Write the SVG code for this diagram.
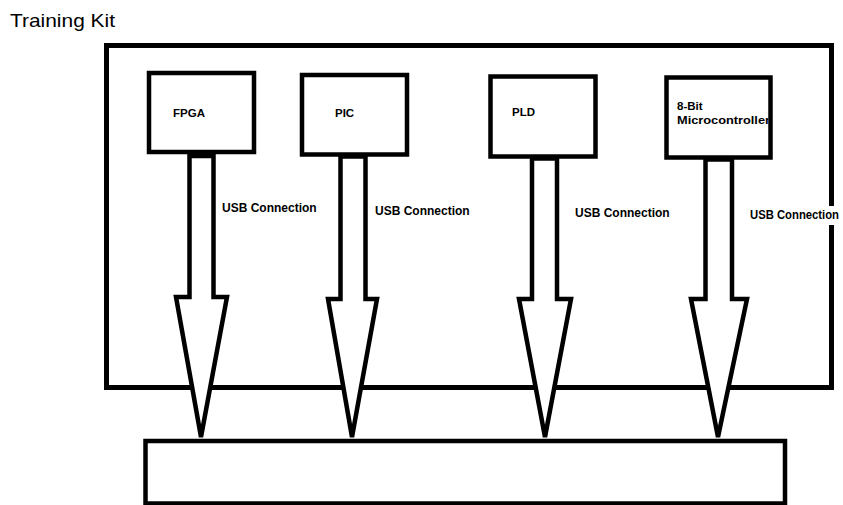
<svg xmlns="http://www.w3.org/2000/svg" width="843" height="505" viewBox="0 0 843 505">
  <style>
    .box { fill: #ffffff; stroke: #000000; stroke-width: 4.5; }
    .frame { fill: none; stroke: #000000; stroke-width: 5; }
    .arrow { fill: #ffffff; stroke: #000000; stroke-width: 4.5; stroke-linejoin: miter; }
    .lbl { font-family: "Liberation Sans", Arial, sans-serif; font-weight: bold; font-size: 11.5px; fill: #000000; }
    .usb { font-family: "Liberation Sans", Arial, sans-serif; font-weight: bold; font-size: 12px; fill: #000000; }
    .title { font-family: "Liberation Sans", Arial, sans-serif; font-size: 19px; fill: #000000; }
  </style>
  <defs>
    <clipPath id="clipMcu"><rect x="668.75" y="79.75" width="99.5" height="75.5"/></clipPath>
  </defs>
  <rect width="843" height="505" fill="#ffffff"/>

  <text class="title" x="10" y="27" textLength="105" lengthAdjust="spacingAndGlyphs">Training Kit</text>

  <g id="training-kit">
    <rect class="frame" x="106.5" y="45.5" width="725" height="342"/>
  </g>

  <g id="target-board">
    <rect class="box" x="145.5" y="441" width="639.5" height="62.5" stroke-width="4"/>
  </g>

  <g id="fpga">
    <rect class="box" x="149" y="73" width="105" height="79"/>
    <text class="lbl" x="173" y="117">FPGA</text>
  </g>
  <g id="pic">
    <rect class="box" x="302" y="75" width="105" height="79.5"/>
    <text class="lbl" x="335" y="117">PIC</text>
  </g>
  <g id="pld">
    <rect class="box" x="490.5" y="76.5" width="105" height="80"/>
    <text class="lbl" x="512" y="116">PLD</text>
  </g>
  <g id="mcu">
    <rect class="box" x="666.5" y="77.5" width="104" height="80"/>
    <g clip-path="url(#clipMcu)">
      <text class="lbl" x="677" y="110">8-Bit</text>
      <text class="lbl" x="677" y="124" textLength="93" lengthAdjust="spacingAndGlyphs">Microcontroller</text>
    </g>
  </g>

  <g id="connectors">
    <polygon class="arrow" points="189.5,156 189.5,297 176,297 201,437 227,297 213.5,297 213.5,156"/>
    <polygon class="arrow" points="340.5,156.5 340.5,299 328,299 352,437 377,299 365.5,299 365.5,156.5"/>
    <polygon class="arrow" points="532,158.5 532,299 519,299 545,437 571,299 557,299 557,158.5"/>
    <polygon class="arrow" points="705.5,159.5 705.5,299 691,299 718,437 747,299 732,299 732,159.5"/>
    <text class="usb" x="222" y="212">USB Connection</text>
    <text class="usb" x="375" y="215">USB Connection</text>
    <text class="usb" x="575" y="217">USB Connection</text>
    <rect x="748" y="206" width="92" height="19" fill="#ffffff"/>
    <text class="usb" x="750" y="219" textLength="89" lengthAdjust="spacingAndGlyphs">USB Connection</text>
  </g>
</svg>
